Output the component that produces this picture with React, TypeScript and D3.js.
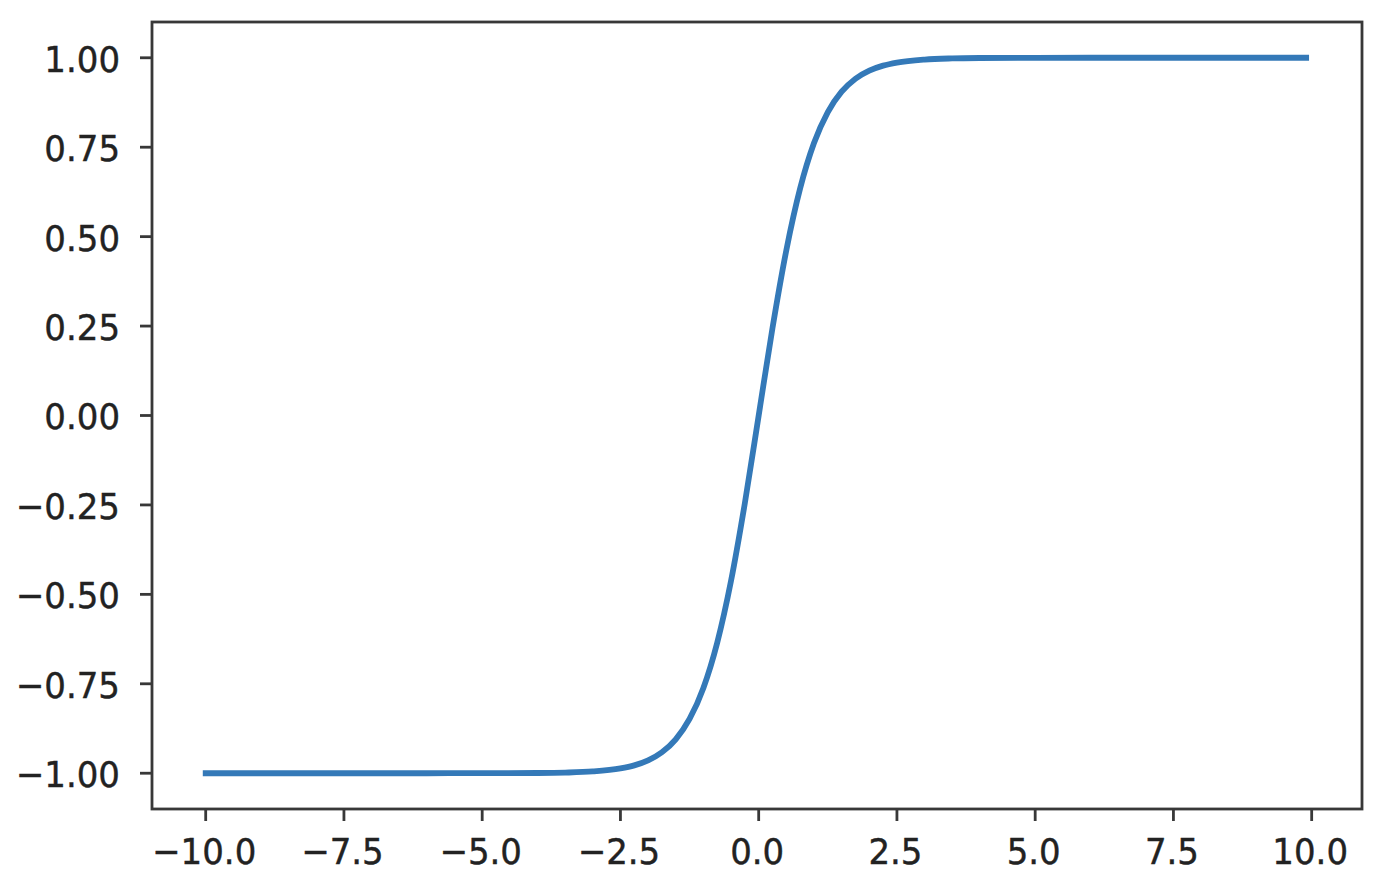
import React from "react";
import * as d3 from "d3";

const xValues = [-10, -8, -6, -5, -4, -3.5, -3, -2.5, -2.25, -2, -1.75, -1.5, -1.25, -1, -0.75, -0.5, -0.25, 0, 0.25, 0.5, 0.75, 1, 1.25, 1.5, 1.75, 2, 2.25, 2.5, 3, 3.5, 4, 5, 6, 8, 9.9];
const yValues = [-1.0, -1.0, -1.0, -0.9999, -0.9993, -0.9982, -0.9951, -0.9866, -0.978, -0.964, -0.9414, -0.9051, -0.8483, -0.7616, -0.6351, -0.4621, -0.2449, 0, 0.2449, 0.4621, 0.6351, 0.7616, 0.8483, 0.9051, 0.9414, 0.964, 0.978, 0.9866, 0.9951, 0.9982, 0.9993, 0.9999, 1.0, 1.0, 1.0];
const xTicks = [-10, -7.5, -5, -2.5, 0, 2.5, 5, 7.5, 10];
const yTicks = [-1, -0.75, -0.5, -0.25, 0, 0.25, 0.5, 0.75, 1];

const W = 1396;
const H = 884;
const L = 152, R = 1362, T = 22, B = 809;
const FONT = 34;
const SY = 1.06;

const fmt = (v: number, d: number) => {
  const s = Math.abs(v).toFixed(d);
  return v < 0 ? "\u2212" + s : s;
};

export default function App() {
  const x = d3.scaleLinear().domain([-10.971, 10.91]).range([L, R]);
  const y = d3.scaleLinear().domain([-1.1, 1.1]).range([B, T]);
  const pts: [number, number][] = xValues.map((v, i) => [v, yValues[i]]);
  const line = d3
    .line<[number, number]>()
    .x((d) => x(d[0]))
    .y((d) => y(d[1]))
    .curve(d3.curveMonotoneX);

  return (
    <svg
      width={W}
      height={H}
      style={{ position: "absolute", left: 0, top: 0, background: "#fff" }}
      fontFamily="'DejaVu Sans', sans-serif"
    >
      <rect x={0} y={0} width={W} height={H} fill="#fff" />
      <path
        d={line(pts) || ""}
        fill="none"
        stroke="#3479b8"
        strokeWidth={5.8}
        strokeLinecap="square"
        strokeLinejoin="round"
      />
      <rect x={L} y={T} width={R - L} height={B - T} fill="none" stroke="#383838" strokeWidth={2.8} />
      {xTicks.map((t) => (
        <g key={"x" + t}>
          <line x1={x(t)} x2={x(t)} y1={B} y2={B + 12} stroke="#383838" strokeWidth={2.8} />
          <text
            transform={`translate(${x(t) - 1.5},${864}) scale(1,${SY})`}
            textAnchor="middle"
            fontSize={FONT}
            fill="#222"
            stroke="#222"
            strokeWidth={0.4}
          >
            {fmt(t, 1)}
          </text>
        </g>
      ))}
      {yTicks.map((t) => (
        <g key={"y" + t}>
          <line x1={L - 12} x2={L} y1={y(t)} y2={y(t)} stroke="#383838" strokeWidth={2.8} />
          <text
            transform={`translate(${L - 32},${y(t) + 0.8}) scale(1,${SY})`}
            textAnchor="end"
            dy="0.365em"
            fontSize={FONT}
            fill="#222"
            stroke="#222"
            strokeWidth={0.4}
          >
            {fmt(t, 2)}
          </text>
        </g>
      ))}
    </svg>
  );
}
